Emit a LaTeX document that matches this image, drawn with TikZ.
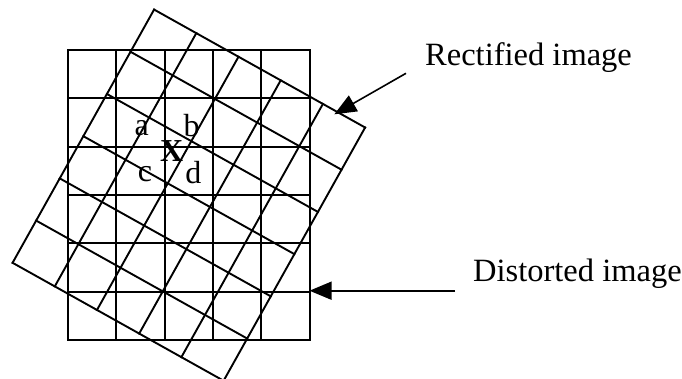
\documentclass[tikz,border=0pt]{standalone}
\usepackage{fontspec}
\setmainfont{Liberation Serif}
\usetikzlibrary{arrows.meta}
\tikzset{
  gridline/.style={line width=1.9pt, line cap=rect},
  pointer/.style={line width=1.6pt, -{Triangle[length=22pt,width=18pt]}},
  label/.style={font=\fontsize{32.5}{32.5}\selectfont, inner sep=0pt},
  letter/.style={font=\fontsize{32}{32}\selectfont, inner sep=0pt}
}
\begin{document}
\begin{tikzpicture}[x=1pt,y=-1pt]
\useasboundingbox (0,0) rectangle (682,378);
% axis-aligned (distorted) grid
\begin{scope}[shift={(68,50)}]
  \foreach \i in {0,...,5} \draw[gridline] (\i*48.35,0) -- (\i*48.35,290.1);
  \foreach \j in {0,...,6} \draw[gridline] (0,\j*48.35) -- (241.75,\j*48.35);
\end{scope}
% rotated (rectified) grid
\begin{scope}[shift={(188.85,195.15)}, rotate=-29.2]
  \foreach \i in {0,...,5} \draw[gridline] (-120.875+\i*48.35,-145.05) -- (-120.875+\i*48.35,145.05);
  \foreach \j in {0,...,6} \draw[gridline] (-120.875,-145.05+\j*48.35) -- (120.875,-145.05+\j*48.35);
\end{scope}
% letters
\node[letter] (la) at (141.7,128) {a};
\node[letter] (lb) at (191.7,126) {b};
\node[letter] (lx) at (171.7,151) {\textbf{X}};
\node[letter] (lc) at (145,174.5) {c};
\node[letter] (ld) at (193.3,173) {d};
% labels and arrows
\node[label, anchor=base west] (rect) at (425,65) {Rectified image};
\node[label, anchor=base west] (dist) at (473,281.7) {Distorted image};
\coordinate (rstart) at (406,73.3);
\coordinate (rtip) at (334.3,114.3);
\coordinate (dstart) at (455,290.7);
\coordinate (dtip) at (309.5,290.7);
\draw[pointer] (rstart) -- (rtip);
\draw[pointer] (dstart) -- (dtip);
\end{tikzpicture}
\end{document}
